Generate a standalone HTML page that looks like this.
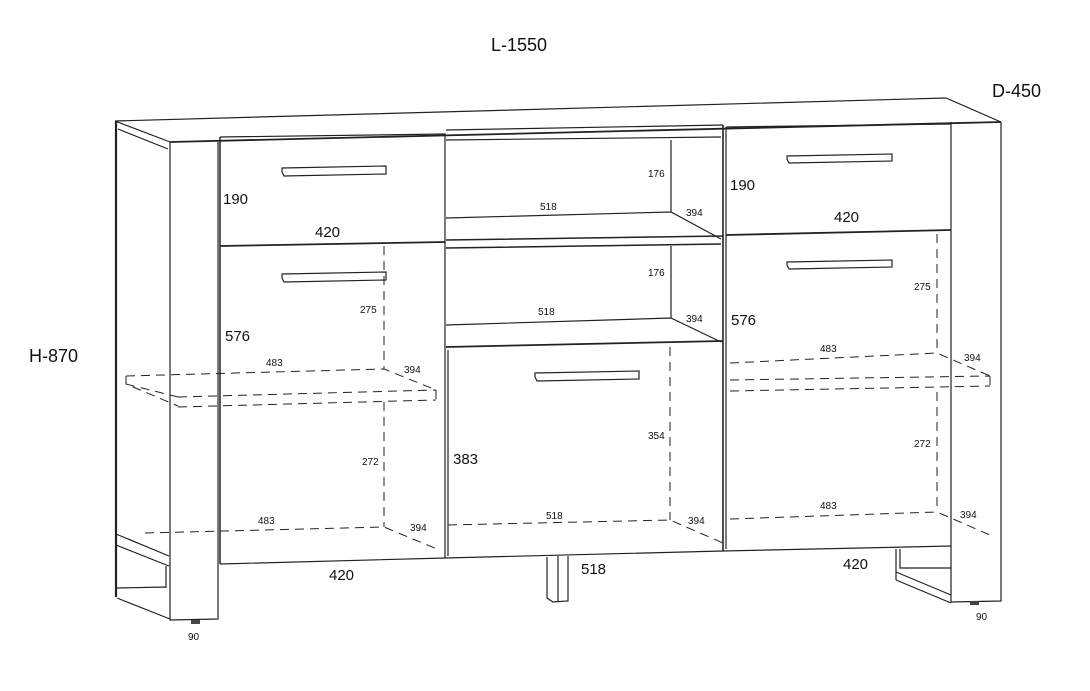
<!DOCTYPE html>
<html><head><meta charset="utf-8"><style>
html,body{margin:0;padding:0;background:#fff;}
svg{display:block;}
text{font-family:"Liberation Sans",sans-serif;fill:#111;}
.b{font-size:15px;}
.s{font-size:10px;}
</style></head><body>
<svg width="1090" height="691" viewBox="0 0 1090 691" xmlns="http://www.w3.org/2000/svg">
<g fill="none" stroke="#222" stroke-width="1.2">
<!-- top -->
<path d="M115 121 L946 98 L1001 122"/>
<path d="M170 142 L1001 122" stroke-width="1.8"/>
<path d="M115 121 L170 142 M118 129 L168 149"/>
<!-- left side -->
<path d="M116 121 L116 597" stroke-width="2.2"/>
<path d="M170 142 L170 620 L218 619 L218 142"/>
<path d="M116 534 L169 556 M116 545 L169 566 M166 566 L166 588 M117 588 L166 587 M117 598 L170 619"/>
<!-- right side -->
<path d="M951 122 L951 602 L1001 601 L1001 122"/>
<path d="M896 549 L896 580 M900 549 L900 568 L951 568 M896 580 L951 603 M896 572 L951 595"/>
<!-- left drawer -->
<path d="M220 137 L220 564" stroke-width="1.5"/>
<path d="M220 137 L445 134 L445 558"/>
<path d="M220 246 L445 242" stroke-width="1.8"/>
<path d="M220 564 L445 558 L723 551 L951 546"/>
<!-- center -->
<path d="M446 130 L723 125"/>
<path d="M446 140 L721 137"/>
<path d="M671 140 L671 212 M446 218 L671 212 L721 239"/>
<path d="M446 240 L723 236 M446 248 L721 244" stroke-width="1.5"/>
<path d="M671 246 L671 318 M446 325 L671 318 L721 342"/>
<path d="M446 347 L723 341" stroke-width="1.8"/>
<path d="M448 350 L448 556"/>
<path d="M723 125 L723 551" stroke-width="1.6"/>
<!-- right drawer/door -->
<path d="M726 127 L951 124"/>
<path d="M726 127 L726 549"/>
<path d="M726 235 L951 230" stroke-width="1.8"/>
<!-- handles -->
<path d="M282 168 L386 166 L386 174 L284 176 L282 172 Z"/>
<path d="M282 274 L386 272 L386 280 L284 282 L282 278 Z"/>
<path d="M787 156 L892 154 L892 161 L789 163 L787 159 Z"/>
<path d="M787 262 L892 260 L892 267 L789 269 L787 265 Z"/>
<path d="M535 373 L639 371 L639 379 L537 381 L535 377 Z"/>
<!-- center leg -->
<path d="M547 557 L547 598 L553 602 L568 601 L568 556 M558 556 L558 601"/>
<!-- feet -->
<rect x="191" y="620" width="9" height="4" fill="#444" stroke="none"/>
<rect x="970" y="601" width="9" height="4" fill="#444" stroke="none"/>
</g>
<g fill="none" stroke="#222" stroke-width="1" stroke-dasharray="9,6">
<!-- left door -->
<path d="M384 246 L384 369"/>
<path d="M126 376 L384 369 L436 390"/>
<path d="M126 376 L126 384 L178 406 M178 397 L436 390 M178 407 L436 400 M436 390 L436 400 M126 384 L178 397" />
<path d="M384 402 L384 527"/>
<path d="M145 533 L384 527 L437 549"/>
<!-- center -->
<path d="M670 347 L670 520"/>
<path d="M448 525 L670 520 L723 543"/>
<!-- right door -->
<path d="M937 234 L937 353"/>
<path d="M730 363 L937 353 L990 376"/>
<path d="M730 380 L990 376 M730 391 L990 386 M990 376 L990 386"/>
<path d="M937 392 L937 512"/>
<path d="M730 519 L937 512 L990 535"/>
</g>
<text class="b" x="491" y="51" style="font-size:18px">L-1550</text>
<text class="b" x="992" y="97" style="font-size:18px">D-450</text>
<text class="b" x="29" y="362" style="font-size:18px">H-870</text>
<text class="b" x="223" y="204">190</text>
<text class="b" x="315" y="237">420</text>
<text class="b" x="225" y="341">576</text>
<text class="b" x="453" y="464">383</text>
<text class="b" x="329" y="580">420</text>
<text class="b" x="581" y="574">518</text>
<text class="b" x="730" y="190">190</text>
<text class="b" x="834" y="222">420</text>
<text class="b" x="731" y="325">576</text>
<text class="b" x="843" y="569">420</text>
<text class="s" x="360" y="313">275</text>
<text class="s" x="266" y="366">483</text>
<text class="s" x="404" y="373">394</text>
<text class="s" x="362" y="465">272</text>
<text class="s" x="258" y="524">483</text>
<text class="s" x="410" y="531">394</text>
<text class="s" x="648" y="177">176</text>
<text class="s" x="540" y="210">518</text>
<text class="s" x="686" y="216">394</text>
<text class="s" x="648" y="276">176</text>
<text class="s" x="538" y="315">518</text>
<text class="s" x="686" y="322">394</text>
<text class="s" x="648" y="439">354</text>
<text class="s" x="546" y="519">518</text>
<text class="s" x="688" y="524">394</text>
<text class="s" x="914" y="290">275</text>
<text class="s" x="820" y="352">483</text>
<text class="s" x="964" y="361">394</text>
<text class="s" x="914" y="447">272</text>
<text class="s" x="820" y="509">483</text>
<text class="s" x="960" y="518">394</text>
<text class="s" x="188" y="640">90</text>
<text class="s" x="976" y="620">90</text>
</svg>
</body></html>
